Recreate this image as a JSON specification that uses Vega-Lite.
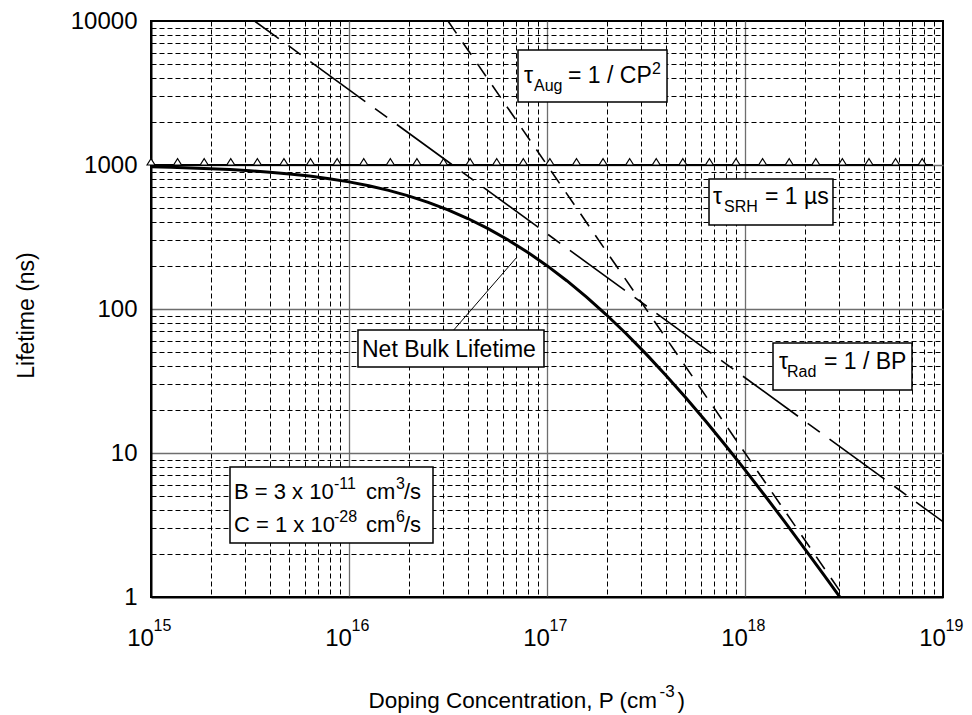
{
  "$schema": "https://vega.github.io/schema/vega-lite/v6.json",
  "width": 792,
  "height": 576,
  "autosize": "none",
  "padding": {"left": 151, "top": 21, "right": 29, "bottom": 118},
  "background": "white",
  "config": {
    "view": {"stroke": "black", "strokeWidth": 2},
    "font": "Liberation Sans",
    "axis": {"labelFont": "Liberation Sans", "titleFont": "Liberation Sans", "labelColor": "black", "titleColor": "black", "labelFontWeight": "normal", "titleFontWeight": "normal"},
    "text": {"font": "Liberation Sans", "color": "black"}
  },
  "datasets": {
    "net": [
      {"P": 1e15, "tau": 970.8}, {"P": 1.259e15, "tau": 963.5}, {"P": 1.585e15, "tau": 954.4}, {"P": 1.995e15, "tau": 943.2},
      {"P": 2.512e15, "tau": 929.4}, {"P": 3.162e15, "tau": 912.5}, {"P": 3.981e15, "tau": 892.1}, {"P": 5.012e15, "tau": 867.4},
      {"P": 6.310e15, "tau": 838.0}, {"P": 7.943e15, "tau": 803.5}, {"P": 1e16, "tau": 763.4}, {"P": 1.259e16, "tau": 717.6},
      {"P": 1.585e16, "tau": 666.4}, {"P": 1.995e16, "tau": 610.3}, {"P": 2.512e16, "tau": 550.5}, {"P": 3.162e16, "tau": 488.1},
      {"P": 3.981e16, "tau": 425.0}, {"P": 5.012e16, "tau": 363.0}, {"P": 6.310e16, "tau": 303.9}, {"P": 7.943e16, "tau": 249.1},
      {"P": 1e17, "tau": 200.0}, {"P": 1.259e17, "tau": 157.2}, {"P": 1.585e17, "tau": 121.0}, {"P": 1.995e17, "tau": 91.18},
      {"P": 2.512e17, "tau": 67.36}, {"P": 3.162e17, "tau": 48.81}, {"P": 3.981e17, "tau": 34.73}, {"P": 5.012e17, "tau": 24.30},
      {"P": 6.310e17, "tau": 16.74}, {"P": 7.943e17, "tau": 11.37}, {"P": 1e18, "tau": 7.634}, {"P": 1.259e18, "tau": 5.069},
      {"P": 1.585e18, "tau": 3.336}, {"P": 1.995e18, "tau": 2.179}, {"P": 2.512e18, "tau": 1.414}, {"P": 3.015e18, "tau": 0.9996}
    ],
    "rad": [{"P": 3.333e15, "tau": 10000}, {"P": 1e19, "tau": 3.333}],
    "aug": [{"P": 3.162e16, "tau": 10000}, {"P": 3.162e18, "tau": 1}],
    "srh": [{"P": 1e15, "tau": 1000}, {"P": 8.9e18, "tau": 1000}],
    "tri": [
      {"P": 1e15, "tau": 1000}, {"P": 1.362e15, "tau": 1000}, {"P": 1.856e15, "tau": 1000}, {"P": 2.528e15, "tau": 1000},
      {"P": 3.445e15, "tau": 1000}, {"P": 4.693e15, "tau": 1000}, {"P": 6.393e15, "tau": 1000}, {"P": 8.711e15, "tau": 1000},
      {"P": 1.187e16, "tau": 1000}, {"P": 1.617e16, "tau": 1000}, {"P": 2.203e16, "tau": 1000}, {"P": 3.001e16, "tau": 1000},
      {"P": 4.089e16, "tau": 1000}, {"P": 5.571e16, "tau": 1000}, {"P": 7.590e16, "tau": 1000}, {"P": 1.034e17, "tau": 1000},
      {"P": 1.409e17, "tau": 1000}, {"P": 1.919e17, "tau": 1000}, {"P": 2.615e17, "tau": 1000}, {"P": 3.562e17, "tau": 1000},
      {"P": 4.853e17, "tau": 1000}, {"P": 6.612e17, "tau": 1000}, {"P": 9.008e17, "tau": 1000}, {"P": 1.227e18, "tau": 1000},
      {"P": 1.672e18, "tau": 1000}, {"P": 2.278e18, "tau": 1000}, {"P": 3.103e18, "tau": 1000}, {"P": 4.228e18, "tau": 1000},
      {"P": 5.760e18, "tau": 1000}, {"P": 7.848e18, "tau": 1000}
    ],
    "leader": [{"P1": 3.313e16, "t1": 69.23, "P2": 7.055e16, "t2": 229.7}],
    "boxes": [
      {"x1": 7.137e16, "x2": 4.038e17, "y1": 6290, "y2": 2738},
      {"x1": 6.580e17, "x2": 2.782e18, "y1": 799.4, "y2": 383.1},
      {"x1": 1.385e18, "x2": 6.973e18, "y1": 58.05, "y2": 27.38},
      {"x1": 1.110e16, "x2": 9.656e16, "y1": 71.48, "y2": 39.56},
      {"x1": 2.506e15, "x2": 2.656e16, "y1": 7.993, "y2": 2.371}
    ],
    "ann": [
      {"P": 7.652e16, "tau": 3710, "t": "τ", "kind": "main"},
      {"P": 1.277e17, "tau": 3710, "t": "= 1 / CP", "kind": "main"},
      {"P": 6.893e17, "tau": 536.0, "t": "τ", "kind": "main"},
      {"P": 1.262e18, "tau": 536.0, "t": "= 1 µs", "kind": "main"},
      {"P": 1.485e18, "tau": 38.31, "t": "τ", "kind": "main"},
      {"P": 2.506e18, "tau": 38.31, "t": "= 1 / BP", "kind": "main"},
      {"P": 1.163e16, "tau": 46.42, "t": "Net Bulk Lifetime", "kind": "main"},
      {"P": 8.596e16, "tau": 3710, "t": "Aug", "kind": "sub"},
      {"P": 7.833e17, "tau": 536.0, "t": "SRH", "kind": "sub"},
      {"P": 1.630e18, "tau": 38.31, "t": "Rad", "kind": "sub"},
      {"P": 3.391e17, "tau": 3710, "t": "2", "kind": "sup"},
      {"P": 2.626e15, "tau": 4.793, "t": "B = 3 x 10", "kind": "bc"},
      {"P": 1.219e16, "tau": 4.793, "t": "cm", "kind": "bc"},
      {"P": 1.896e16, "tau": 4.793, "t": "/s", "kind": "bc"},
      {"P": 2.626e15, "tau": 2.828, "t": "C = 1 x 10", "kind": "bc"},
      {"P": 1.219e16, "tau": 2.828, "t": "cm", "kind": "bc"},
      {"P": 1.896e16, "tau": 2.828, "t": "/s", "kind": "bc"},
      {"P": 8.400e15, "tau": 4.793, "t": "-11", "kind": "bcsup"},
      {"P": 1.727e16, "tau": 4.793, "t": "3", "kind": "bcsup"},
      {"P": 8.400e15, "tau": 2.828, "t": "-28", "kind": "bcsup"},
      {"P": 1.727e16, "tau": 2.828, "t": "6", "kind": "bcsup"}
    ]
  },
  "resolve": {"axis": {"x": "independent", "y": "independent"}},
  "layer": [
    {
      "data": {"name": "net"},
      "mark": {"type": "line", "color": "black", "strokeWidth": 3, "clip": true},
      "encoding": {
        "x": {
          "field": "P", "type": "quantitative",
          "scale": {"type": "log", "domain": [1e15, 1e19], "nice": false},
          "axis": {
            "orient": "bottom",
            "values": [1e15, 2e15, 3e15, 4e15, 5e15, 6e15, 7e15, 8e15, 9e15, 1e16, 2e16, 3e16, 4e16, 5e16, 6e16, 7e16, 8e16, 9e16, 1e17, 2e17, 3e17, 4e17, 5e17, 6e17, 7e17, 8e17, 9e17, 1e18, 2e18, 3e18, 4e18, 5e18, 6e18, 7e18, 8e18, 9e18, 1e19],
            "labelExpr": "abs(log(datum.value)/LN10 - round(log(datum.value)/LN10)) < 0.001 ? '10' : ''",
            "labelFontSize": 24, "labelOffset": -11, "labelPadding": 48, "labelBaseline": "alphabetic",
            "labelFlush": false, "labelOverlap": false, "labelBound": false,
            "ticks": false, "tickSize": 0,
            "domain": true, "domainColor": "black", "domainWidth": 2,
            "grid": true,
            "gridColor": {"condition": {"test": "abs(log(datum.value)/LN10 - round(log(datum.value)/LN10)) < 0.001", "value": "#6e6e6e"}, "value": "#000000"},
            "gridDash": {"condition": {"test": "abs(log(datum.value)/LN10 - round(log(datum.value)/LN10)) < 0.001", "value": []}, "value": [5, 3]},
            "gridWidth": {"condition": {"test": "abs(log(datum.value)/LN10 - round(log(datum.value)/LN10)) < 0.001", "value": 1.3}, "value": 1},
            "gridOpacity": {"condition": {"test": "datum.value < 1.01e15 || datum.value > 9.9e18", "value": 0}, "value": 1},
            "title": "Doping Concentration, P (cm",
            "titleFontSize": 22.5,
            "titleX": 217, "titleY": 110, "titleAlign": "left", "titleBaseline": "alphabetic"
          }
        },
        "y": {
          "field": "tau", "type": "quantitative",
          "scale": {"type": "log", "domain": [1, 10000], "nice": false},
          "axis": {
            "orient": "left",
            "values": [1, 2, 3, 4, 5, 6, 7, 8, 9, 10, 20, 30, 40, 50, 60, 70, 80, 90, 100, 200, 300, 400, 500, 600, 700, 800, 900, 1000, 2000, 3000, 4000, 5000, 6000, 7000, 8000, 9000, 10000],
            "labelExpr": "abs(log(datum.value)/LN10 - round(log(datum.value)/LN10)) < 0.001 ? format(datum.value, 'd') : ''",
            "labelFontSize": 24, "labelPadding": 14,
            "labelFlush": false, "labelOverlap": false, "labelBound": false,
            "ticks": false, "tickSize": 0,
            "domain": true, "domainColor": "black", "domainWidth": 2,
            "grid": true,
            "gridColor": {"condition": {"test": "abs(log(datum.value)/LN10 - round(log(datum.value)/LN10)) < 0.001", "value": "#6e6e6e"}, "value": "#000000"},
            "gridDash": {"condition": {"test": "abs(log(datum.value)/LN10 - round(log(datum.value)/LN10)) < 0.001", "value": []}, "value": [5, 3]},
            "gridWidth": {"condition": {"test": "abs(log(datum.value)/LN10 - round(log(datum.value)/LN10)) < 0.001", "value": 1.3}, "value": 1},
            "gridOpacity": {"condition": {"test": "datum.value < 1.01 || datum.value > 9900", "value": 0}, "value": 1},
            "title": "Lifetime (ns)",
            "titleFontSize": 23,
            "titleAngle": 270, "titleX": -118, "titleY": 294, "titleAlign": "center", "titleBaseline": "alphabetic"
          }
        }
      }
    },
    {
      "data": {"name": "rad"},
      "mark": {"type": "line", "color": "black", "strokeWidth": 1.6, "strokeDash": [68, 12, 15, 12], "strokeDashOffset": 38, "clip": true},
      "encoding": {
        "x": {"field": "P", "type": "quantitative", "scale": {"type": "log", "domain": [1e15, 1e19], "nice": false}, "axis": null},
        "y": {"field": "tau", "type": "quantitative", "scale": {"type": "log", "domain": [1, 10000], "nice": false}, "axis": null}
      }
    },
    {
      "data": {"name": "aug"},
      "mark": {"type": "line", "color": "black", "strokeWidth": 1.6, "strokeDash": [15, 11], "clip": true},
      "encoding": {
        "x": {"field": "P", "type": "quantitative", "scale": {"type": "log", "domain": [1e15, 1e19], "nice": false}, "axis": null},
        "y": {"field": "tau", "type": "quantitative", "scale": {"type": "log", "domain": [1, 10000], "nice": false}, "axis": null}
      }
    },
    {
      "data": {"name": "srh"},
      "mark": {"type": "line", "color": "black", "strokeWidth": 2},
      "encoding": {
        "x": {
          "field": "P", "type": "quantitative",
          "scale": {"type": "log", "domain": [1e15, 1e19], "nice": false},
          "axis": {
            "orient": "bottom", "labels": false, "ticks": false, "tickSize": 0, "domain": false, "grid": false,
            "title": ")", "titleFontSize": 22.5,
            "titleX": 526, "titleY": 110, "titleAlign": "left", "titleBaseline": "alphabetic"
          }
        },
        "y": {"field": "tau", "type": "quantitative", "scale": {"type": "log", "domain": [1, 10000], "nice": false}, "axis": null}
      }
    },
    {
      "data": {"name": "leader"},
      "mark": {"type": "rule", "color": "black", "strokeWidth": 1},
      "encoding": {
        "x": {"field": "P1", "type": "quantitative", "scale": {"type": "log", "domain": [1e15, 1e19], "nice": false}, "axis": null},
        "y": {"field": "t1", "type": "quantitative", "scale": {"type": "log", "domain": [1, 10000], "nice": false}, "axis": null},
        "x2": {"field": "P2"},
        "y2": {"field": "t2"}
      }
    },
    {
      "data": {"name": "boxes"},
      "mark": {"type": "rect", "fill": "white", "stroke": "black", "strokeWidth": 1.5},
      "encoding": {
        "x": {"field": "x1", "type": "quantitative", "scale": {"type": "log", "domain": [1e15, 1e19], "nice": false}, "axis": null},
        "x2": {"field": "x2"},
        "y": {"field": "y1", "type": "quantitative", "scale": {"type": "log", "domain": [1, 10000], "nice": false}, "axis": null},
        "y2": {"field": "y2"}
      }
    },
    {
      "data": {"name": "ann"},
      "transform": [{"filter": "datum.kind === 'main'"}],
      "mark": {"type": "text", "align": "left", "baseline": "alphabetic", "fontSize": 23, "color": "black"},
      "encoding": {
        "x": {"field": "P", "type": "quantitative", "scale": {"type": "log", "domain": [1e15, 1e19], "nice": false}, "axis": null},
        "y": {"field": "tau", "type": "quantitative", "scale": {"type": "log", "domain": [1, 10000], "nice": false}, "axis": null},
        "text": {"field": "t"}
      }
    },
    {
      "data": {"name": "ann"},
      "transform": [{"filter": "datum.kind === 'sub'"}],
      "mark": {"type": "text", "align": "left", "baseline": "alphabetic", "fontSize": 16, "dy": 8, "color": "black"},
      "encoding": {
        "x": {"field": "P", "type": "quantitative", "scale": {"type": "log", "domain": [1e15, 1e19], "nice": false}, "axis": null},
        "y": {"field": "tau", "type": "quantitative", "scale": {"type": "log", "domain": [1, 10000], "nice": false}, "axis": null},
        "text": {"field": "t"}
      }
    },
    {
      "data": {"name": "ann"},
      "transform": [{"filter": "datum.kind === 'sup'"}],
      "mark": {"type": "text", "align": "left", "baseline": "alphabetic", "fontSize": 16, "dy": -9, "color": "black"},
      "encoding": {
        "x": {"field": "P", "type": "quantitative", "scale": {"type": "log", "domain": [1e15, 1e19], "nice": false}, "axis": null},
        "y": {"field": "tau", "type": "quantitative", "scale": {"type": "log", "domain": [1, 10000], "nice": false}, "axis": null},
        "text": {"field": "t"}
      }
    },
    {
      "data": {"name": "ann"},
      "transform": [{"filter": "datum.kind === 'bc'"}],
      "mark": {"type": "text", "align": "left", "baseline": "alphabetic", "fontSize": 22, "color": "black"},
      "encoding": {
        "x": {"field": "P", "type": "quantitative", "scale": {"type": "log", "domain": [1e15, 1e19], "nice": false}, "axis": null},
        "y": {"field": "tau", "type": "quantitative", "scale": {"type": "log", "domain": [1, 10000], "nice": false}, "axis": null},
        "text": {"field": "t"}
      }
    },
    {
      "data": {"name": "ann"},
      "transform": [{"filter": "datum.kind === 'bcsup'"}],
      "mark": {"type": "text", "align": "left", "baseline": "alphabetic", "fontSize": 16, "dy": -10, "color": "black"},
      "encoding": {
        "x": {"field": "P", "type": "quantitative", "scale": {"type": "log", "domain": [1e15, 1e19], "nice": false}, "axis": null},
        "y": {"field": "tau", "type": "quantitative", "scale": {"type": "log", "domain": [1, 10000], "nice": false}, "axis": null},
        "text": {"field": "t"}
      }
    },
    {
      "data": {"name": "tri"},
      "mark": {"type": "point", "shape": "M-1,0L1,0L0,-1.6Z", "size": 64, "filled": false, "fill": "white", "stroke": "black", "strokeWidth": 1.1, "opacity": 1},
      "encoding": {
        "x": {
          "field": "P", "type": "quantitative",
          "scale": {"type": "log", "domain": [1e15, 1e19], "nice": false},
          "axis": {
            "orient": "bottom",
            "values": [1e15, 1e16, 1e17, 1e18, 1e19],
            "labelExpr": "format(round(log(datum.value)/LN10), 'd')",
            "labelFontSize": 16, "labelOffset": 11, "labelPadding": 33, "labelBaseline": "alphabetic",
            "labelFlush": false, "labelOverlap": false, "labelBound": false,
            "ticks": false, "tickSize": 0, "domain": false, "grid": false,
            "title": "-3", "titleFontSize": 17,
            "titleX": 508, "titleY": 99, "titleAlign": "left", "titleBaseline": "alphabetic"
          }
        },
        "y": {"field": "tau", "type": "quantitative", "scale": {"type": "log", "domain": [1, 10000], "nice": false}, "axis": null}
      }
    }
  ]
}
